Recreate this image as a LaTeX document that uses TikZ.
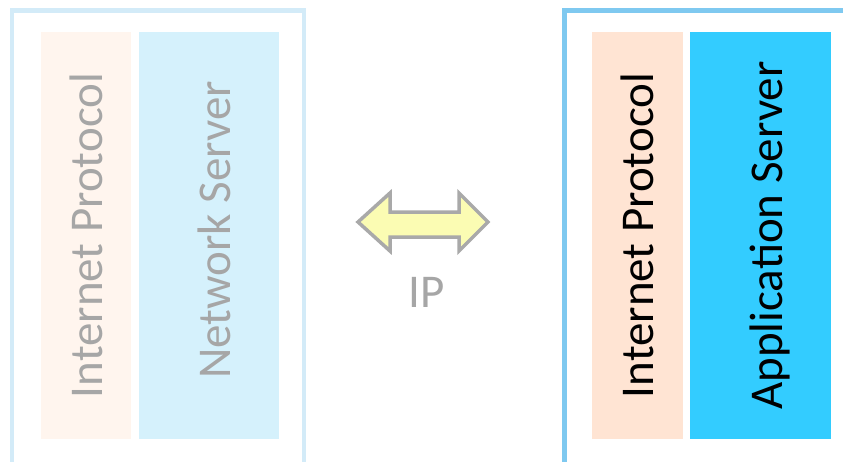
\documentclass[tikz,border=0pt]{standalone}
\usepackage{fontspec}
\setmainfont{Carlito}
\definecolor{lframe}{HTML}{D3EBF8}
\definecolor{rframe}{HTML}{7FC9F0}
\definecolor{lip}{HTML}{FFF5EE}
\definecolor{lns}{HTML}{D5F1FC}
\definecolor{rip}{HTML}{FFE4D3}
\definecolor{ras}{HTML}{33CCFF}
\definecolor{fadetext}{HTML}{A6A6A6}
\definecolor{arrfill}{HTML}{FBFCB3}
\definecolor{arrline}{HTML}{A9A9A9}
\begin{document}
\begin{tikzpicture}[x=1pt,y=-1pt,
  layer/.style={draw=none,inner sep=0pt,anchor=north west},
  vtext/.style={rotate=90,anchor=base,inner sep=0pt,font=\fontsize{47}{56}\selectfont},
  frameline/.style={line width=4.5pt}]
\useasboundingbox (0,0) rectangle (843,461);
\clip (0,0) rectangle (843,461);
% frames
\draw[frameline,color=lframe] (12,480) -- (12,10.5) -- (304,10.5) -- (304,480);
\draw[frameline,color=rframe] (564.5,480) -- (564.5,10.5) -- (870,10.5);
% layer boxes
\node[layer,fill=lip,minimum width=90pt,minimum height=407pt] (lipbox) at (41,32) {};
\node[layer,fill=lns,minimum width=140pt,minimum height=407pt] (lnsbox) at (139,32) {};
\node[layer,fill=rip,minimum width=91pt,minimum height=407pt] (ripbox) at (592,32) {};
\node[layer,fill=ras,minimum width=141pt,minimum height=407pt] (rasbox) at (690,32) {};
% texts
\node[vtext,text=fadetext] (liptext) at (102.5,235.5) {Internet Protocol};
\node[vtext,text=fadetext] (lnstext) at (230.5,230) {Network Server};
\node[vtext,text=black] (riptext) at (653.5,235.5) {Internet Protocol};
\node[vtext,text=black] (rastext) at (782.5,235.5) {Application Server};
% double arrow
\draw[line width=3.5pt,draw=arrline,fill=arrfill,line join=miter]
  (358,222) -- (390,193) -- (390,212) -- (459,212) -- (459,193) -- (488,222)
  -- (459,251) -- (459,237) -- (390,237) -- (390,251) -- cycle;
\node[anchor=base,inner sep=0pt,text=fadetext,font=\fontsize{47}{56}\selectfont] (iplabel) at (427,307) {IP};
\end{tikzpicture}
\end{document}
